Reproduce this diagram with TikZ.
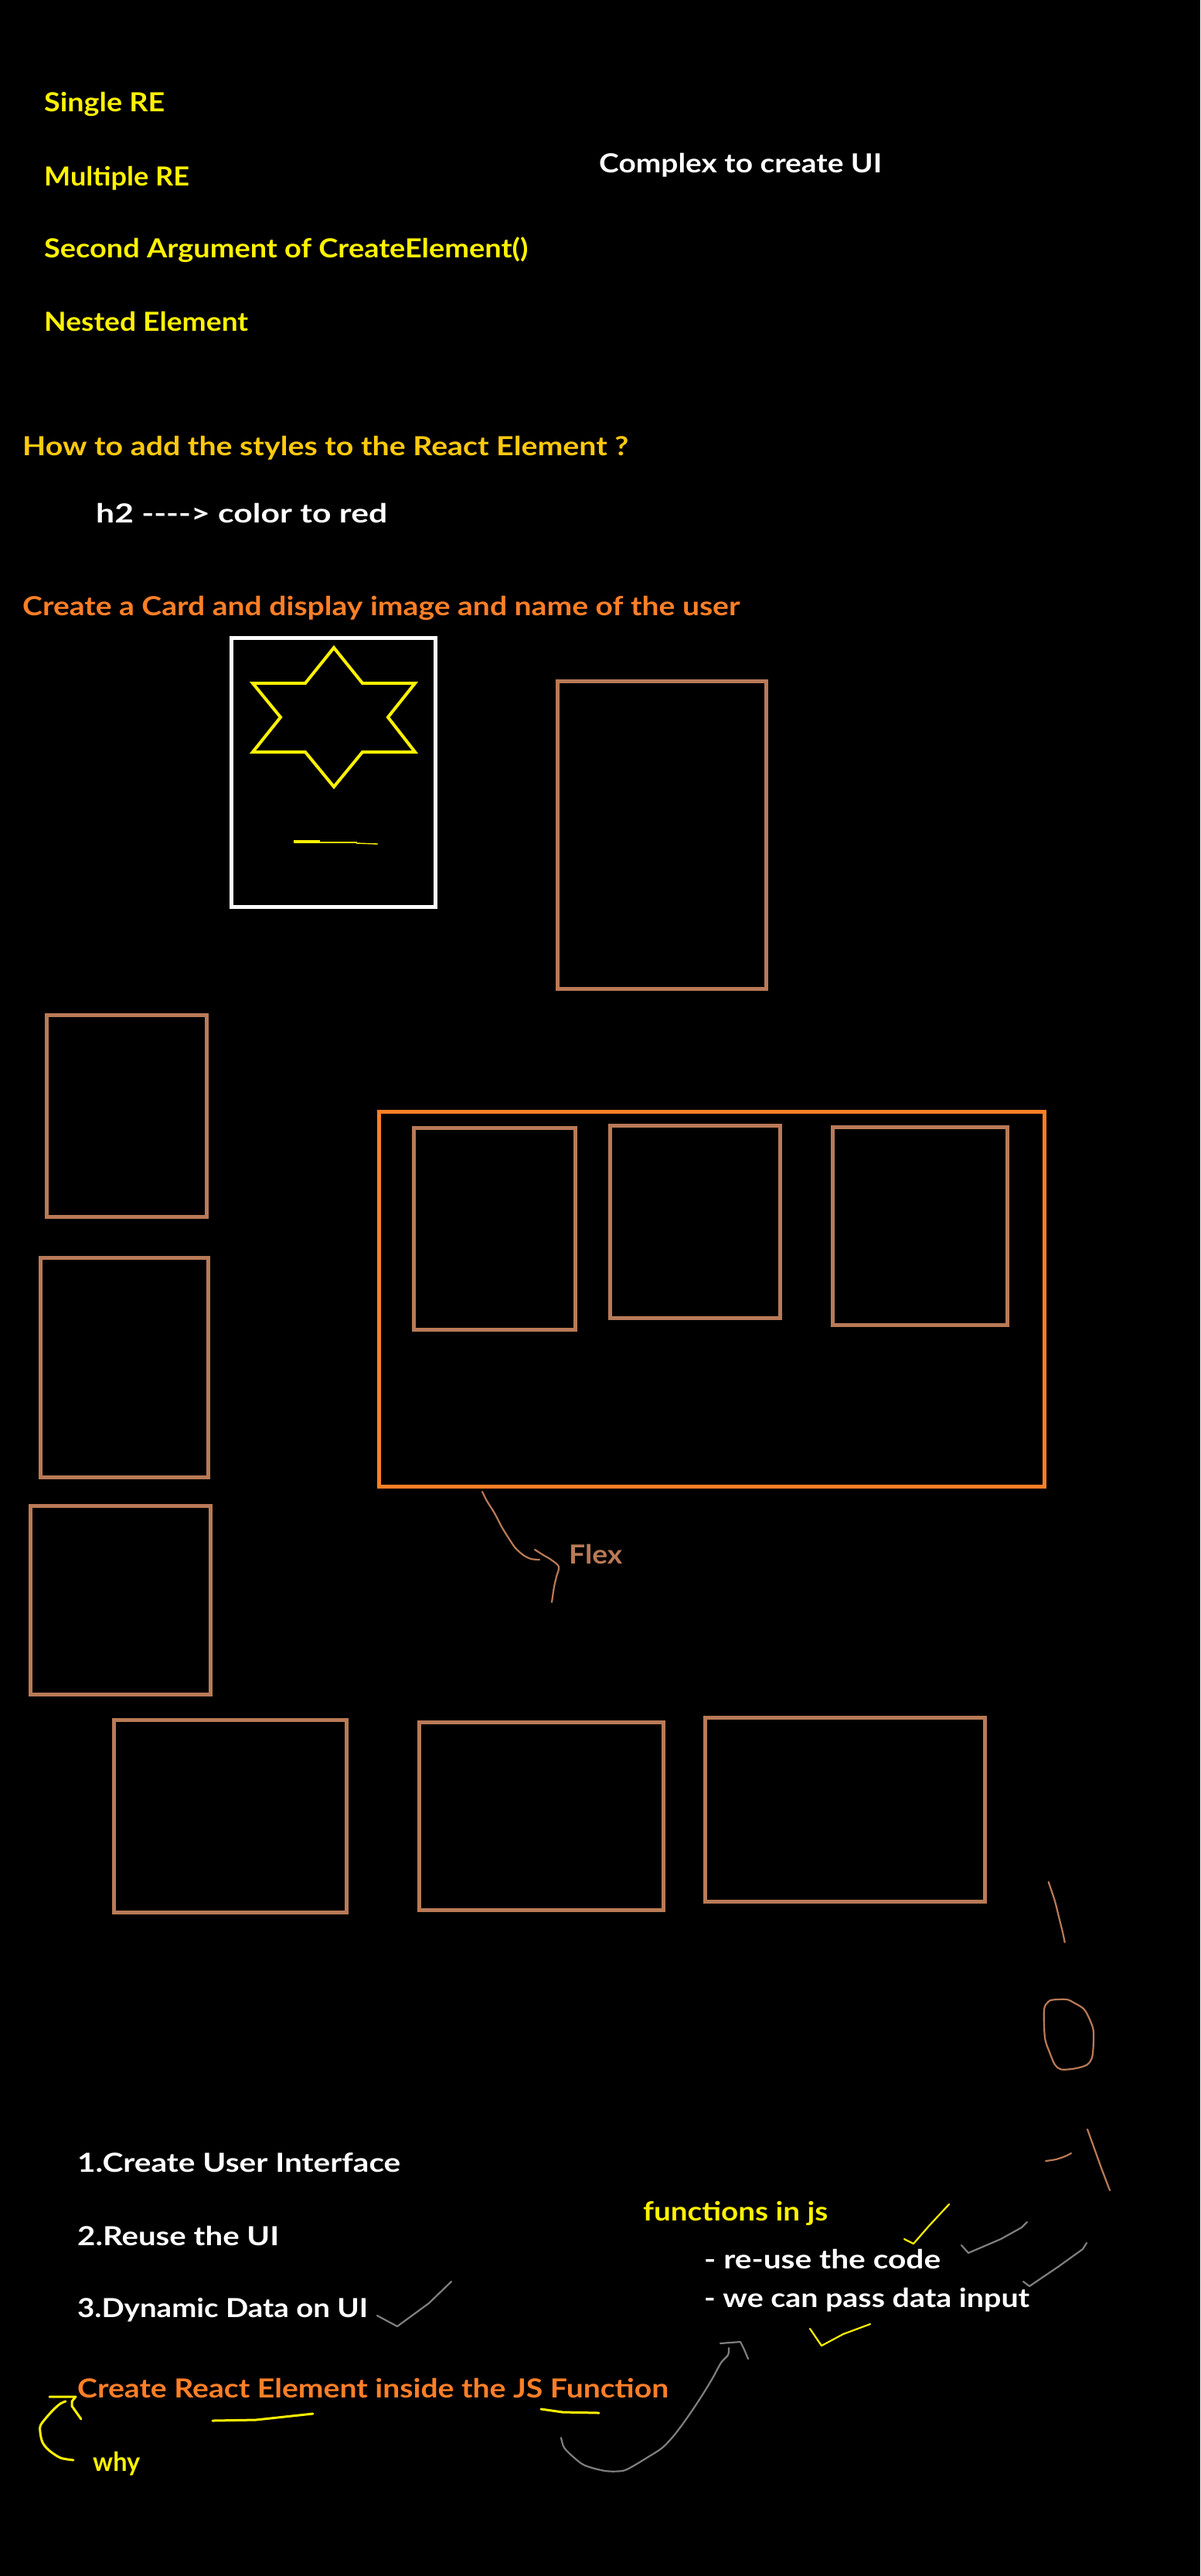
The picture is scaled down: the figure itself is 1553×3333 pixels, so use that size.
\documentclass[tikz,border=0pt]{standalone}
\usepackage{fontspec}
\usepackage{graphicx}
\newfontfamily\hand{Lato}
\definecolor{pyellow}{HTML}{FFF200}
\definecolor{pgold}{HTML}{FFC90E}
\definecolor{porange}{HTML}{FF7F27}
\definecolor{pbrown}{HTML}{B97A57}
\definecolor{pgrey}{HTML}{7F7F7F}
\newcommand\fitw[2]{\resizebox{#1pt}{\height}{#2}}
\tikzset{
  txt/.style={anchor=base west, inner sep=0pt, font=\hand\bfseries\fontsize{34}{40}\selectfont},
  boxline/.style={line width=5pt, draw=pbrown},
  flexline/.style={line width=4.5pt, draw=porange},
  cardline/.style={line width=5pt, draw=white},
  starline/.style={line width=4pt, draw=pyellow, line join=miter},
  pen/.style={line width=2.2pt, line cap=round, line join=round},
  thickpen/.style={line width=3pt, line cap=round, line join=round}
}
\begin{document}
\begin{tikzpicture}[x=1pt,y=-1pt]
\fill[black] (0,0) rectangle (1553,3333);
\useasboundingbox (0,0) rectangle (1553,3333);

% --- top texts ---
\node[txt,text=pyellow] (single) at (57,144) {\fitw{156}{Single RE}};
\node[txt,text=pyellow] (multiple) at (57,240) {\fitw{188}{Multiple RE}};
\node[txt,text=pyellow] (second) at (57,333) {\fitw{626}{Second Argument of CreateElement()}};
\node[txt,text=pyellow] (nested) at (57,428) {\fitw{264}{Nested Element}};
\node[txt,text=white] (complex) at (775,223) {\fitw{366}{Complex to create UI}};
\node[txt,text=pgold] (howto) at (29,589) {\fitw{784}{How to add the styles to the React Element ?}};
\node[txt,text=white] (h2) at (124,676) {\fitw{377}{h2 -{}-{}-{}-{}> color to red}};
\node[txt,text=porange] (card) at (29,796) {\fitw{928}{Create a Card and display image and name of the user}};

% --- card with star ---
\draw[cardline] (299,825.5) rectangle (563.5,1173.5);
\draw[starline] (432,838)--(469,884)--(537,884)--(502,928)--(537,973)--(469,973)--(432,1018)--(395,973)--(327,973)--(363,928)--(327,884)--(395,884)--cycle;
\draw[pyellow, line width=1.2pt] (380,1088)--(414,1088);
\draw[pyellow, line width=1.2pt] (380,1090)--(462,1090);
\draw[pyellow, line width=1.4pt] (461,1091)--(489,1092);

% --- rectangles ---
\draw[boxline] (721.5,881.5) rectangle (991.5,1279.5);
\draw[boxline, line width=4.5pt] (60.5,1313.5) rectangle (267.5,1574.5);
\draw[boxline, line width=4.5pt] (52.5,1627.5) rectangle (269.5,1911.5);
\draw[boxline] (39.5,1948.5) rectangle (272.5,2192.5);
\draw[flexline] (490.5,1438.5) rectangle (1351.5,1923.5);
\draw[boxline, line width=4.5pt] (535.5,1459.5) rectangle (744.5,1720.5);
\draw[boxline, line width=4.5pt] (789.5,1456.5) rectangle (1009.5,1705.5);
\draw[boxline, line width=4.5pt] (1077.5,1458.5) rectangle (1303.5,1714.5);
\draw[boxline] (147.5,2225.5) rectangle (448.5,2474.5);
\draw[boxline] (542.5,2228.5) rectangle (858.5,2471.5);
\draw[boxline] (912.5,2222.5) rectangle (1274.5,2460.5);

% --- Flex annotation ---
\draw[pen, pbrown] plot[smooth] coordinates {(624,1930) (630,1942) (640,1958) (650,1977) (660,1993) (667,2003) (677,2012) (687,2017) (698,2018)};
\draw[pen, pbrown] plot[smooth] coordinates {(692,2005) (703,2012) (713,2018) (723,2027) (720,2040) (717,2053) (714,2073)};
\node[txt,text=pbrown] (flex) at (736,2023) {\fitw{69}{Flex}};

% --- brown scribbles right ---
\draw[pen, pbrown] plot[smooth] coordinates {(1356.7,2435) (1365,2460) (1370,2480) (1375,2500) (1377.7,2513)};
\draw[pen, pbrown] plot[smooth cycle] coordinates {(1362,2587.5) (1380,2587) (1390,2591.5) (1403,2600) (1411.5,2616.5) (1415,2630) (1413.5,2660) (1406.5,2671.5) (1390,2676.5) (1373,2677.5) (1365,2671.5) (1358.5,2656.5) (1352,2636.5) (1351,2600) (1356.5,2590)};
\draw[pen, pbrown] plot[smooth] coordinates {(1353,2796) (1366,2794) (1378,2790) (1386,2786)};
\draw[pen, pbrown] plot[smooth] coordinates {(1407,2755) (1416,2780) (1425,2805) (1436,2834)};

% --- bottom texts ---
\node[txt,text=white] (l1) at (100,2810) {\fitw{418}{1.Create User Interface}};
\node[txt,text=white] (l2) at (100,2905) {\fitw{261}{2.Reuse the UI}};
\node[txt,text=white] (l3) at (100,2998) {\fitw{376}{3.Dynamic Data on UI}};
\node[txt,text=porange] (cre) at (100,3102) {\fitw{765}{Create React Element inside the JS Function}};
\node[txt,text=pyellow] (why) at (120,3197) {\fitw{61}{why}};
\node[txt,text=pyellow] (fjs) at (832,2873) {\fitw{239}{functions in js}};
\node[txt,text=white] (reuse) at (911,2935) {\fitw{306}{- re-use the code}};
\node[txt,text=white] (pass) at (911,2985) {\fitw{421}{- we can pass data input}};

% --- checks and marks ---
\draw[pen, pyellow] (1170,2897)--(1182,2903)--(1202,2880)--(1228,2852);
\draw[pen, pgrey] (1244,2905)--(1253,2915)--(1295,2897)--(1322,2882)--(1329,2875);
\draw[pen, pgrey] (1324,2952)--(1332,2958)--(1369,2933)--(1401,2910)--(1406,2902);
\draw[pen, pgrey] (488,2996)--(514,3010)--(555,2980)--(584,2952);
\draw[pen, pyellow] (1048,3013)--(1063,3035)--(1091,3020)--(1126,3007);

% --- underlines ---
\draw[thickpen, pyellow] (275,3132)--(331,3131)--(405,3123);
\draw[thickpen, pyellow] (700,3117)--(728,3121)--(775,3122);

% --- why bracket ---
\draw[thickpen, pyellow] (64,3101)--(98,3101)--(93,3107)--(93,3113)--(105,3130);
\draw[thickpen, pyellow] plot[smooth] coordinates {(85,3107) (78,3110) (67,3120) (53,3137) (52,3147) (55,3160) (63,3170) (78,3180) (95,3183)};

% --- grey arrow ---
\draw[pen, pgrey] plot[smooth] coordinates {(726,3154) (730,3167) (743,3180) (757,3190) (783,3197) (805,3197) (817,3192) (837,3180) (857,3167) (873,3150) (890,3127) (908,3100) (922,3077) (933,3057) (942,3047) (943,3038)};
\draw[pen, pgrey] (932,3032)--(958,3030)--(963,3040)--(968,3052);
\end{tikzpicture}
\end{document}
